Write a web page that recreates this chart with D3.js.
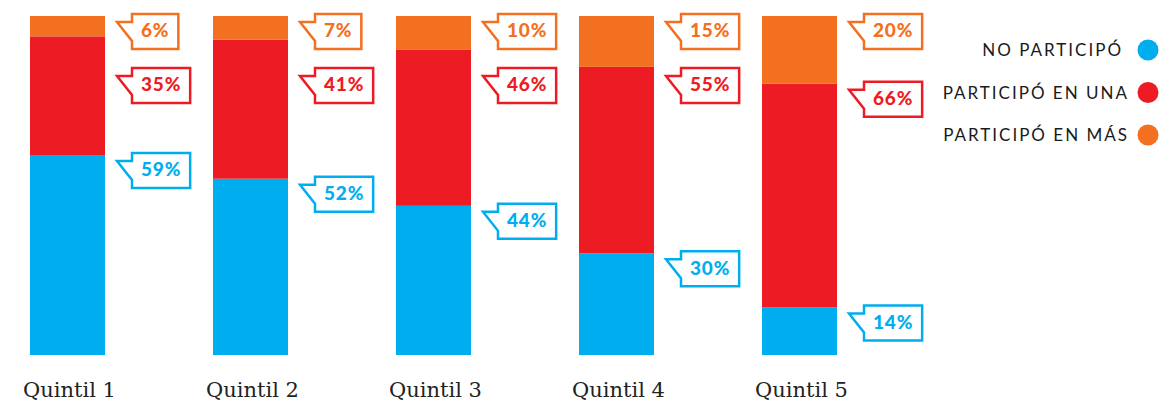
<!DOCTYPE html>
<html><head><meta charset="utf-8">
<script src="https://cdn.jsdelivr.net/npm/d3@7"></script>
<style>body{margin:0;background:#fff}svg{display:block}</style>
</head><body>
<svg id="c" width="1167" height="401"></svg>
<script>
const categories = ["Quintil 1","Quintil 2","Quintil 3","Quintil 4","Quintil 5"];
const noParticipo = [59,52,44,30,14];
const participoUna = [35,41,46,55,66];
const participoMas = [6,7,10,15,20];
const seriesNames = ["NO PARTICIPÓ","PARTICIPÓ EN UNA","PARTICIPÓ EN MÁS"];
const colors = ["#00AEEF","#ED1C24","#F37021"];

const svg = d3.select("#c");
const xb = d3.scaleBand().domain(categories).range([30, 837]).paddingInner(108/183).paddingOuter(0);
const y = d3.scaleLinear().domain([0,100]).range([355,16]);

const rows = categories.map((c,i)=>({cat:c, vals:[noParticipo[i],participoUna[i],participoMas[i]]}));
const stack = d3.stack().keys([0,1,2]).value((d,k)=>d.vals[k]);
const stacked = stack(rows);

const bw = xb.bandwidth();
stacked.forEach((layer,k)=>{
  svg.append("g").selectAll("rect").data(layer).join("rect")
    .attr("x",d=>xb(d.data.cat))
    .attr("width",bw)
    .attr("y",d=>y(d[1]))
    .attr("height",d=>y(d[0])-y(d[1]))
    .attr("fill",colors[k]);
});

// callouts
const boxH = 35;
rows.forEach((r,i)=>{
  const bx = xb(r.cat)+bw;
  let prevBottom = -100;
  [2,1,0].forEach(k=>{
    const seg = stacked[k][i];
    const segTop = y(seg[1]);
    const top = Math.max(segTop-2, prevBottom+19);
    prevBottom = top+boxH;
    const left = bx+27;
    const g = svg.append("g");
    const t = g.append("text")
      .attr("x",0).attr("y",top+boxH/2+1)
      .attr("dominant-baseline","middle")
      .attr("text-anchor","middle")
      .attr("font-family","Lato, 'Open Sans', sans-serif")
      .attr("font-weight","900")
      .attr("font-size",19)
      .attr("letter-spacing",0.8)
      .attr("fill",colors[k])
      .text(r.vals[k]+"%");
    const tw = t.node().getComputedTextLength();
    const w = tw+18;
    t.attr("x",left+w/2);
    const pts = [[left-15,top+8],[left,top+8],[left,top],[left+w,top],[left+w,top+boxH],[left,top+boxH],[left,top+27]];
    g.insert("path","text")
      .attr("d",d3.line()(pts)+"Z")
      .attr("fill","#fff")
      .attr("stroke",colors[k])
      .attr("stroke-width",2.5)
      .attr("stroke-linejoin","miter");
  });
});

// x axis labels
const xAxis = d3.axisBottom(xb).tickSize(0).tickPadding(0);
const ax = svg.append("g").attr("transform","translate(0,382)").call(xAxis);
ax.select(".domain").remove();
ax.selectAll("text")
  .attr("x",2)
  .attr("font-family","'DejaVu Serif', serif")
  .attr("font-size",21)
  .attr("fill","#222")
  .attr("dy","0.71em");

// legend
const legY = d3.scalePoint().domain(seriesNames).range([50,135]);
const leg = svg.append("g");
seriesNames.forEach((n,k)=>{
  leg.append("circle").attr("cx",1148).attr("cy",legY(n)).attr("r",10.5).attr("fill",colors[k]);
  leg.append("text").attr("x",k===0?1123:1129).attr("y",legY(n)).attr("dy","0.36em")
    .attr("text-anchor","end")
    .attr("font-family","Lato, sans-serif")
    .attr("font-size",17).attr("letter-spacing",2)
    .attr("fill","#1a1a1a").text(n);
});
</script>
</body></html>
